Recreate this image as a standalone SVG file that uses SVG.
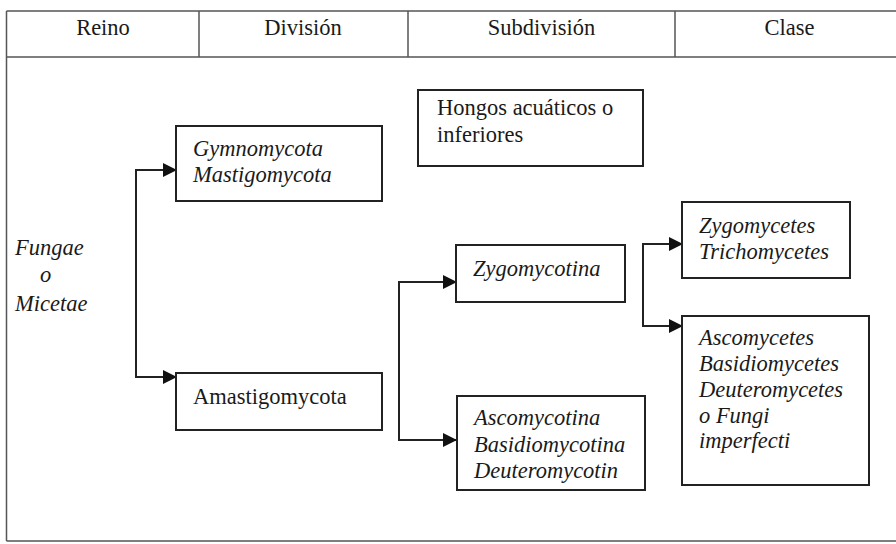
<svg xmlns="http://www.w3.org/2000/svg" width="896" height="544" viewBox="0 0 896 544">
  <style>
    .frame { fill: none; stroke: #555; stroke-width: 1.5; }
    .box { fill: #fff; stroke: #222; stroke-width: 2; }
    .txt { font-family: 'Liberation Serif', serif; font-size: 22.5px; fill: #1a1a1a; }
    .it { font-style: italic; }
    .head { text-anchor: middle; }
    .conn { fill: none; stroke: #222; stroke-width: 2; }
  </style>
  <defs>
    <marker id="arrow" markerWidth="14" markerHeight="14" refX="13" refY="7" orient="auto" markerUnits="userSpaceOnUse">
      <path d="M0,0 L14,7 L0,14 Z" fill="#111"/>
    </marker>
  </defs>
  <rect width="896" height="544" fill="#fff"/>

  <!-- table frame and header -->
  <g id="frame">
    <path class="frame" d="M6.5,11 H896 M6.5,57 H896 M6.5,541 H896 M6.5,11 V541 M199,11 V57 M408,11 V57 M675,11 V57"/>
    <text class="txt head" x="103" y="35">Reino</text>
    <text class="txt head" x="303" y="35">División</text>
    <text class="txt head" x="541.5" y="35">Subdivisión</text>
    <text class="txt head" x="789.5" y="35">Clase</text>
  </g>

  <!-- connectors: a vertical spine with a branch arrow to each child -->
  <g id="connectors">
    <path class="conn" d="M136,170 V377"/>
    <path class="conn" d="M135,170 H176" marker-end="url(#arrow)"/>
    <path class="conn" d="M135,377 H176" marker-end="url(#arrow)"/>
    <path class="conn" d="M399,282 V440"/>
    <path class="conn" d="M398,282 H456" marker-end="url(#arrow)"/>
    <path class="conn" d="M398,440 H456" marker-end="url(#arrow)"/>
    <path class="conn" d="M643,244 V326"/>
    <path class="conn" d="M642,244 H682" marker-end="url(#arrow)"/>
    <path class="conn" d="M642,326 H682" marker-end="url(#arrow)"/>
  </g>

  <g id="reino">
    <text class="txt it" x="15" y="255">Fungae</text>
    <text class="txt it" x="40" y="282">o</text>
    <text class="txt it" x="15" y="311">Micetae</text>
  </g>

  <g id="gymnomycota">
    <rect class="box" x="176" y="126" width="206" height="75"/>
    <text class="txt it" x="193" y="156">Gymnomycota</text>
    <text class="txt it" x="193" y="182">Mastigomycota</text>
  </g>

  <g id="amastigomycota">
    <rect class="box" x="176" y="373" width="206" height="57"/>
    <text class="txt" x="193" y="404">Amastigomycota</text>
  </g>

  <g id="hongos">
    <rect class="box" x="418" y="90" width="225" height="76"/>
    <text class="txt" x="437" y="115">Hongos acuáticos o</text>
    <text class="txt" x="437" y="142">inferiores</text>
  </g>

  <g id="zygomycotina">
    <rect class="box" x="456" y="245" width="169" height="57"/>
    <text class="txt it" x="473" y="276">Zygomycotina</text>
  </g>

  <g id="ascomycotina">
    <rect class="box" x="457" y="396" width="188" height="94"/>
    <text class="txt it" x="474" y="425">Ascomycotina</text>
    <text class="txt it" x="474" y="452">Basidiomycotina</text>
    <text class="txt it" x="474" y="478">Deuteromycotin</text>
  </g>

  <g id="zygomycetes">
    <rect class="box" x="682" y="202" width="168" height="76"/>
    <text class="txt it" x="699" y="233">Zygomycetes</text>
    <text class="txt it" x="699" y="259">Trichomycetes</text>
  </g>

  <g id="ascomycetes">
    <rect class="box" x="682" y="316" width="187" height="169"/>
    <text class="txt it" x="699" y="345">Ascomycetes</text>
    <text class="txt it" x="699" y="371">Basidiomycetes</text>
    <text class="txt it" x="699" y="397">Deuteromycetes</text>
    <text class="txt it" x="699" y="423">o Fungi</text>
    <text class="txt it" x="699" y="448">imperfecti</text>
  </g>
</svg>
